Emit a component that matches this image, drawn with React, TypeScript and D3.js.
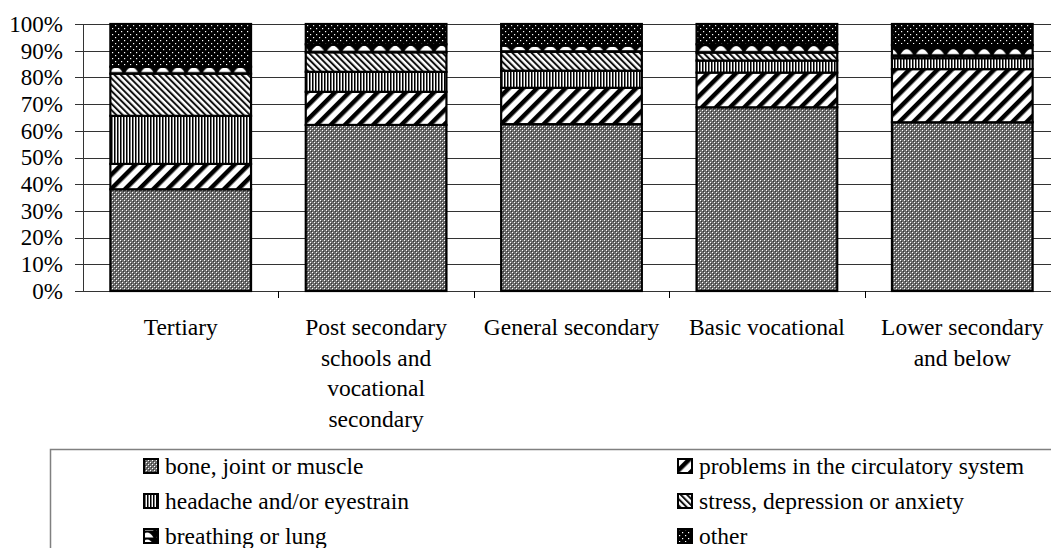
import React from 'react';
import * as d3 from 'd3';

// chart data (shares in %)
const categories = ['Tertiary', 'Post secondary', 'General secondary', 'Basic vocational', 'Lower secondary'];
const categoryLines = [
  ['Tertiary'],
  ['Post secondary', 'schools and', 'vocational', 'secondary'],
  ['General secondary'],
  ['Basic vocational'],
  ['Lower secondary', 'and below'],
];
const seriesNames = [
  'bone, joint or muscle',
  'problems in the circulatory system',
  'headache and/or eyestrain',
  'stress, depression or anxiety',
  'breathing or lung',
  'other',
];
const bone = [38.1, 62.2, 62.5, 68.8, 63.2];
const circulatory = [9.5, 12.4, 13.6, 13.0, 19.9];
const headache = [18.0, 7.5, 6.4, 4.5, 4.1];
const stress = [15.8, 7.3, 7.1, 3.0, 0.9];
const breathing = [2.6, 3.0, 2.3, 3.1, 4.0];
const other = [16.0, 7.6, 8.1, 7.6, 7.9];
const yTicks = [0, 0.1, 0.2, 0.3, 0.4, 0.5, 0.6, 0.7, 0.8, 0.9, 1];

const seriesValues = [bone, circulatory, headache, stress, breathing, other];
const patternIds = ['p-bone', 'p-circ', 'p-head', 'p-stress', 'p-breath', 'p-other'];

const W = 1051;
const H = 548;
const FONT = "'Liberation Serif', serif";

// the "breathing" wave tile, anchored at the top of each band
function BreathPattern({ id, top, h }: { id: string; top: number; h: number }) {
  const b = Math.max(h - 1.5, 3);
  return (
    <pattern id={id} x={0} y={top} width="15.5" height={h} patternUnits="userSpaceOnUse">
      <rect width="15.5" height={h} fill="#000" />
      <path d={`M1.5,${b} Q7.75,${b - 2 * Math.min(5, b - 0.5)} 14,${b} Z`} fill="#fff" />
    </pattern>
  );
}

function Patterns() {
  return (
    <>
      <pattern id="p-bone" width="4" height="4" patternUnits="userSpaceOnUse">
        <rect width="4" height="4" fill="#6e6e6e" />
        <rect x="0" y="0" width="1" height="1" fill="#fff" />
        <rect x="2" y="2" width="1" height="1" fill="#fff" />
        <rect x="1" y="1" width="1" height="1" fill="#333" />
        <rect x="3" y="3" width="1" height="1" fill="#333" />
      </pattern>
      <pattern id="p-circ" width="10" height="10" patternUnits="userSpaceOnUse" patternTransform="rotate(45)">
        <rect width="10" height="10" fill="#fff" />
        <rect x="0" y="0" width="4.5" height="10" fill="#000" />
      </pattern>
      <pattern id="p-head" width="3" height="4" patternUnits="userSpaceOnUse">
        <rect width="3" height="4" fill="#fff" />
        <rect x="0" y="0" width="1" height="4" fill="#000" />
        <rect x="1" y="0" width="1" height="4" fill="#777" />
      </pattern>
      <pattern id="p-stress" width="4.5" height="4.5" patternUnits="userSpaceOnUse" patternTransform="rotate(-45)">
        <rect width="4.5" height="4.5" fill="#fff" />
        <rect x="0" y="0" width="2" height="4.5" fill="#111" />
      </pattern>
      <pattern id="p-other" width="6" height="6" patternUnits="userSpaceOnUse">
        <rect width="6" height="6" fill="#000" />
        <rect x="1" y="1" width="1.2" height="1.2" fill="#fff" />
        <rect x="4" y="4" width="1.2" height="1.2" fill="#fff" />
      </pattern>
    </>
  );
}

export default function App() {
  const rows = categories.map((c, i) => {
    const r: Record<string, number | string> = { category: c };
    seriesNames.forEach((s, k) => { r[s] = seriesValues[k][i] / 100; });
    return r;
  });

  const stacked = d3.stack<any>().keys(seriesNames)(rows);

  const x = d3.scaleBand<string>()
    .domain(categories)
    .range([83, 1060])
    .paddingInner(0.28)
    .paddingOuter(0.14);

  const y = d3.scaleLinear().domain([0, 1]).range([291, 24]);
  const fmt = d3.format('.0%');

  const boundaries = categories.map((c) => (x(c) as number) - x.step() * 0.14);
  boundaries.push(1060);

  const legendRows = [0, 1, 2];
  const breathLayer = stacked[4];

  const fillFor = (k: number, i: number) =>
    k === 4 ? `url(#p-breath-${i})` : `url(#${patternIds[k]})`;

  return (
    <svg width={W} height={H} style={{ position: 'absolute', left: 0, top: 0, background: '#fff' }}>
      <defs>
        <Patterns />
        {breathLayer.map((d, i) => (
          <BreathPattern key={i} id={`p-breath-${i}`} top={y(d[1])} h={y(d[0]) - y(d[1])} />
        ))}
        <BreathPattern id="p-breath-legend" top={0} h={7} />
      </defs>

      {/* gridlines */}
      {yTicks.map((t) => (
        <line key={'g' + t} x1={75} x2={W} y1={Math.round(y(t)) + 0.5} y2={Math.round(y(t)) + 0.5}
          stroke="#333" strokeWidth={1} />
      ))}

      {/* y axis labels */}
      {yTicks.map((t) => (
        <text key={'t' + t} x={63} y={y(t)} dy="0.34em" textAnchor="end" fontSize={23} fill="#000"
          fontFamily={FONT}>
          {fmt(t)}
        </text>
      ))}
      <line x1={83.5} x2={83.5} y1={y(1)} y2={y(0)} stroke="#333" />

      {/* x axis ticks */}
      {boundaries.slice(1).map((b, i) => (
        <line key={'xt' + i} x1={Math.round(b) + 0.5} x2={Math.round(b) + 0.5} y1={y(0)} y2={y(0) + 7}
          stroke="#000" />
      ))}

      {/* stacked bars */}
      {stacked.map((layer, k) => (
        <g key={layer.key}>
          {layer.map((d, i) => (
            <rect key={i}
              x={x(categories[i])}
              y={y(d[1])}
              width={x.bandwidth()}
              height={y(d[0]) - y(d[1])}
              fill={fillFor(k, i)}
              stroke="#000" strokeWidth={2.2} />
          ))}
        </g>
      ))}

      {/* category labels */}
      {categories.map((c, i) => (
        <text key={'c' + c} x={(x(c) as number) + x.bandwidth() / 2} y={335} textAnchor="middle" fontSize={23.5}
          fontFamily={FONT}>
          {categoryLines[i].map((ln, j) => (
            <tspan key={j} x={(x(c) as number) + x.bandwidth() / 2} dy={j === 0 ? 0 : 30.7}>{ln}</tspan>
          ))}
        </text>
      ))}

      {/* legend */}
      <rect x={50.5} y={449.5} width={1020} height={120} fill="none" stroke="#808080" strokeWidth={1.5} />
      {legendRows.map((r) => [0, 1].map((col) => {
        const k = r * 2 + col;
        const sx = col === 0 ? 143 : 677;
        const cy = 466 + r * 35;
        return (
          <g key={'l' + k}>
            <rect x={sx + 1} y={cy - 7} width={14} height={14}
              fill={k === 4 ? 'url(#p-breath-legend)' : `url(#${patternIds[k]})`}
              stroke="#000" strokeWidth={2} />
            <text x={sx + 22} y={cy} dy="0.34em" fontSize={23.5} fontFamily={FONT}>{seriesNames[k]}</text>
          </g>
        );
      }))}
    </svg>
  );
}
